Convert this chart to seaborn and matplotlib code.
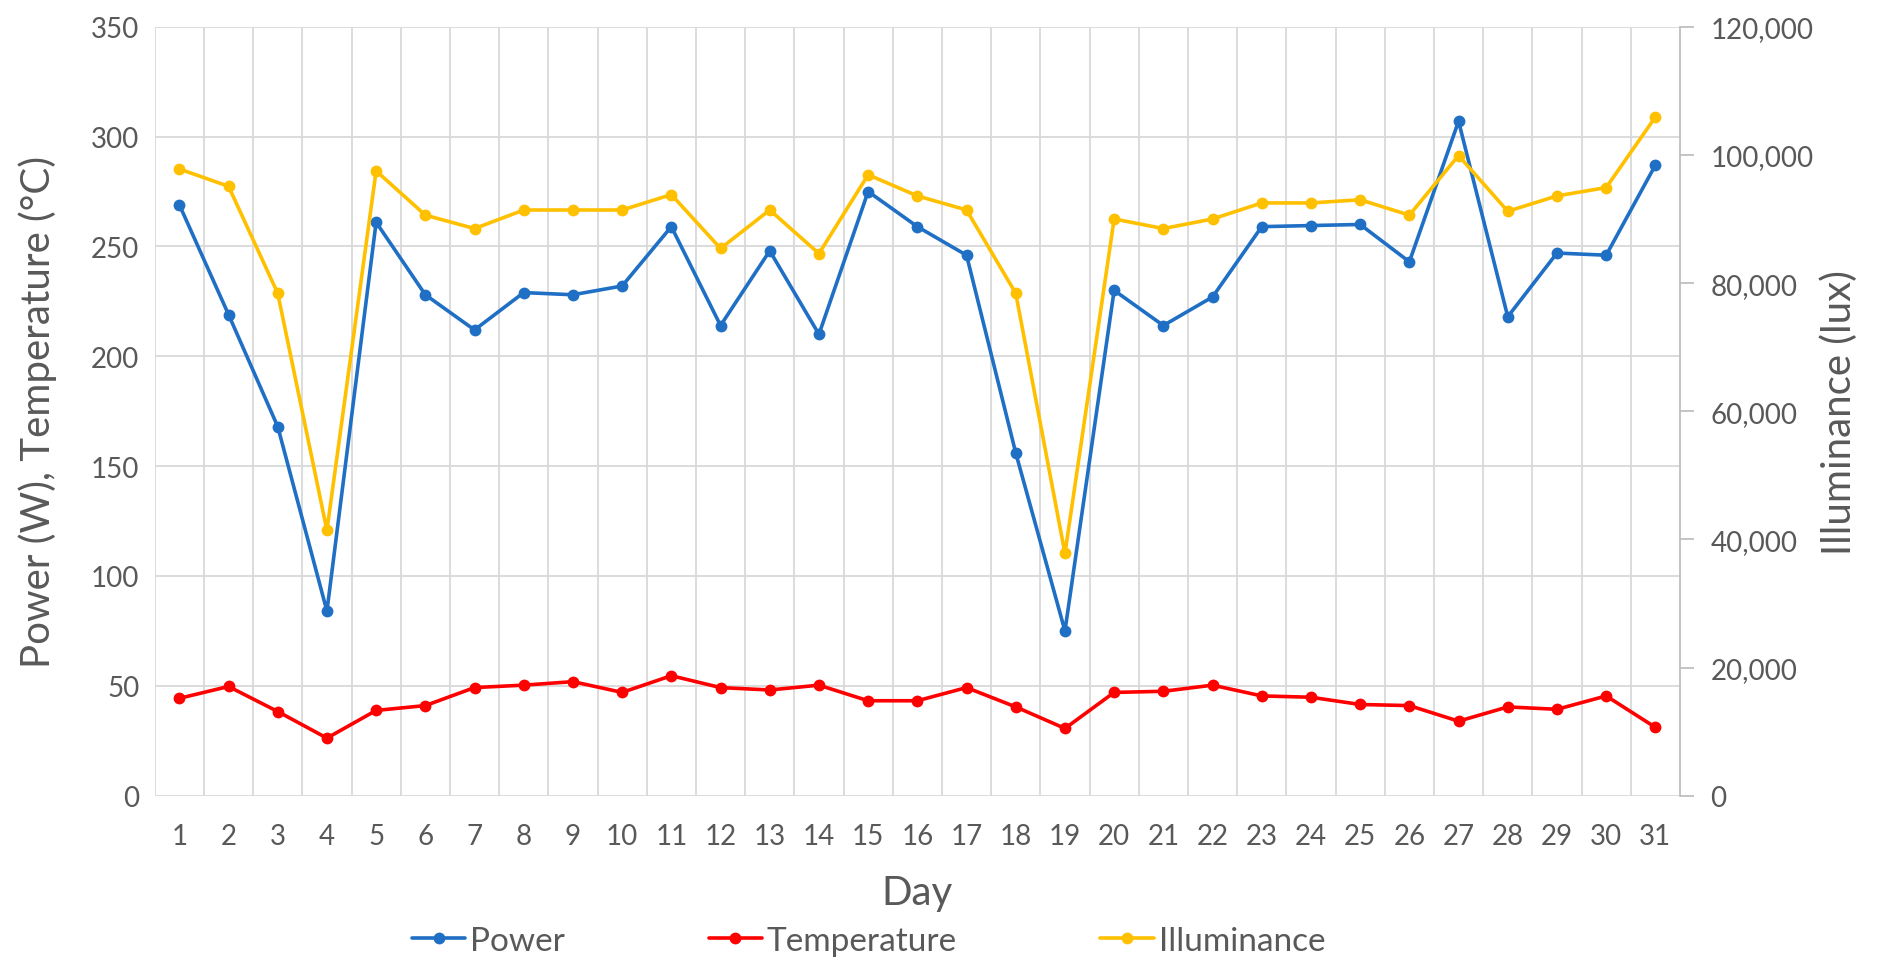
import matplotlib
matplotlib.use("Agg")
import matplotlib.pyplot as plt
import matplotlib.ticker as mticker
from matplotlib.lines import Line2D
import seaborn as sns
import pandas as pd

days = list(range(1, 32))
power = [269, 219, 168, 84, 261, 228, 212, 229, 228, 232, 259, 214, 248, 210, 275,
         259, 246, 156, 75, 230, 214, 227, 259, 259.5, 260, 243, 307, 218, 247, 246, 287]
temperature = [44.3, 49.7, 38.3, 26.2, 38.8, 41, 49.2, 50.3, 51.9, 47, 54.6, 49.2, 48.1,
               50.3, 43.2, 43.2, 49.2, 40.4, 30.6, 47, 47.5, 50.3, 45.4, 44.8, 41.5, 41,
               33.9, 40.4, 39.3, 45.4, 31.1]
illuminance = [97800, 95100, 78400, 41400, 97500, 90600, 88500, 91400, 91400, 91400,
               93800, 85400, 91400, 84600, 96900, 93600, 91400, 78400, 37800, 90000,
               88500, 90000, 92500, 92500, 93000, 90600, 99900, 91200, 93600, 94900, 105900]
left_ticks = [0, 50, 100, 150, 200, 250, 300, 350]
right_ticks = [0, 20000, 40000, 60000, 80000, 100000, 120000]

df = pd.DataFrame({"Day": days, "Power": power, "Temperature": temperature,
                   "Illuminance": illuminance})

sns.set_theme(style="white")
plt.rcParams["font.family"] = ["Lato", "DejaVu Sans"]
txt = "#595959"
grid_c = "#D9D9D9"
c_pow, c_tmp, c_ill = "#1F6FC5", "#FF0000", "#FFC000"

fig = plt.figure(figsize=(18.8, 9.7), dpi=100)
ax = fig.add_axes([0.0823, 0.1787, 0.8113, 0.7927])
ax2 = ax.twinx()

lw, ms = 2.6, 8.5
sns.lineplot(data=df, x="Day", y="Power", ax=ax, color=c_pow, marker="o", lw=lw,
             markersize=ms, markeredgewidth=0, legend=False)
sns.lineplot(data=df, x="Day", y="Temperature", ax=ax, color=c_tmp, marker="o", lw=lw,
             markersize=ms, markeredgewidth=0, legend=False)
sns.lineplot(data=df, x="Day", y="Illuminance", ax=ax2, color=c_ill, marker="o", lw=lw,
             markersize=ms, markeredgewidth=0, legend=False)

ax.set_xlim(0.5, 31.5)
ax.set_ylim(0, 350)
ax2.set_ylim(0, 120000)
ax.set_xticks(days)
ax.set_xticks([d + 0.5 for d in range(0, 31)], minor=True)
ax.set_yticks(left_ticks)
ax2.set_yticks(right_ticks)
ax2.yaxis.set_major_formatter(mticker.FuncFormatter(lambda v, p: f"{int(v):,}"))

ax.grid(False)
ax2.grid(False)
ax.yaxis.grid(True, color=grid_c, lw=1.3)
ax.xaxis.grid(True, which="minor", color=grid_c, lw=1.3)
ax.set_axisbelow(True)

for s in ["top", "left", "bottom"]:
    ax.spines[s].set_visible(False)
    ax2.spines[s].set_visible(False)
ax.spines["right"].set_visible(False)
ax2.spines["right"].set_color("#BFBFBF")
ax2.spines["right"].set_linewidth(1.3)

ax.tick_params(axis="both", which="both", length=0, labelsize=20, labelcolor=txt, pad=11)
ax.tick_params(axis="x", pad=20)
ax2.tick_params(axis="y", length=10, width=1.3, color="#BFBFBF", labelsize=20,
                labelcolor=txt, pad=12)

ax.set_xlabel("Day", fontsize=29, color=txt)
ax.xaxis.set_label_coords(0.5, -0.102)
ax.set_ylabel("Power (W), Temperature (°C)", fontsize=29, color=txt)
ax.yaxis.set_label_coords(-0.064, 0.5)
ax2.set_ylabel("Illuminance (lux)", fontsize=29, color=txt)
ax2.yaxis.set_label_coords(1.092, 0.5)

handles = [Line2D([], [], color=c, marker="o", lw=lw, markersize=ms, markeredgewidth=0)
           for c in (c_pow, c_tmp, c_ill)]
leg = fig.legend(handles, ["Power", "Temperature", "Illuminance"], ncol=3,
                 loc="center", bbox_to_anchor=(0.462, 0.029), frameon=False,
                 fontsize=24, columnspacing=4.3, handlelength=1.6, handletextpad=0.15,
                 borderaxespad=0, borderpad=0)
for t in leg.get_texts():
    t.set_color(txt)

fig.savefig("out.png", dpi=100)
